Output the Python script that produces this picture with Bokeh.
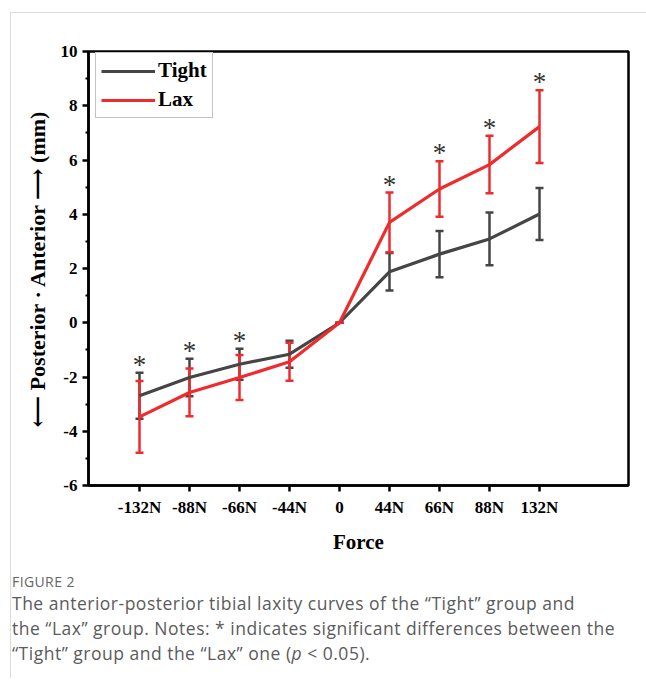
from bokeh.plotting import figure
from bokeh.models import (Range1d, FixedTicker, Whisker, ColumnDataSource, Legend,
                          LegendItem, Div, TeeHead)
from bokeh.layouts import column
from bokeh.core.properties import value
from bokeh.embed import file_html
from bokeh.resources import INLINE

# ---- data ----
forces = ["-132N", "-88N", "-66N", "-44N", "0", "44N", "66N", "88N", "132N"]
tight_mean = [-2.69, -2.02, -1.53, -1.16, 0.0, 1.88, 2.53, 3.09, 4.01]
tight_sd = [0.85, 0.69, 0.57, 0.50, 0.0, 0.69, 0.85, 0.97, 0.96]
lax_mean = [-3.47, -2.57, -2.02, -1.44, 0.0, 3.70, 4.93, 5.83, 7.23]
lax_sd = [1.32, 0.88, 0.83, 0.70, 0.0, 1.10, 1.02, 1.06, 1.34]
significant = [True, True, True, False, False, True, True, True, True]
y_ticks = [-6, -4, -2, 0, 2, 4, 6, 8, 10]
y_minor = [-5, -3, -1, 1, 3, 5, 7, 9]

TIGHT = "#454545"
LAX = "#ef2b2d"
SERIF = "Liberation Serif"

xs = list(range(len(forces)))

def make_src(mean, sd):
    return ColumnDataSource(dict(
        x=xs, y=mean,
        upper=[m + s for m, s in zip(mean, sd)],
        lower=[m - s for m, s in zip(mean, sd)],
    ))

src_t = make_src(tight_mean, tight_sd)
src_l = make_src(lax_mean, lax_sd)

p = figure(width=627, height=547, output_backend="svg", toolbar_location=None,
           x_range=Range1d(-1.02, 9.78), y_range=Range1d(-6, 10),
           min_border_left=77, min_border_top=38, min_border_right=10,
           min_border_bottom=75)
p.grid.visible = False
p.background_fill_color = "white"
p.border_fill_color = "white"
p.outline_line_color = "black"
p.outline_line_width = 2.5

# axes
xa = p.xaxis[0]
xa.ticker = FixedTicker(ticks=xs)
xa.major_label_overrides = {i: f for i, f in enumerate(forces)}
xa.minor_tick_line_color = None
xa.axis_label = "Force"
ya = p.yaxis[0]
ya.ticker = FixedTicker(ticks=y_ticks, minor_ticks=y_minor)
ya.major_label_overrides = {t: str(t) for t in y_ticks}
ya.axis_label = "\u27f5 Posterior \u00b7 Anterior \u27f6 (mm)"
for ax in (xa, ya):
    ax.axis_line_width = 2.5
    ax.axis_line_color = "black"
    ax.major_tick_line_width = 2.5
    ax.major_tick_line_color = "black"
    ax.major_tick_in = 0
    ax.major_tick_out = 6
    ax.minor_tick_line_width = 2
    ax.minor_tick_in = 0
    ax.minor_tick_out = 3
    ax.major_label_text_font = SERIF
    ax.major_label_text_font_style = "bold"
    ax.major_label_text_font_size = "17px"
    ax.major_label_text_color = "black"
    ax.axis_label_text_font = SERIF
    ax.axis_label_text_font_style = "bold"
    ax.axis_label_text_font_size = "21px"
    ax.axis_label_text_color = "black"
ya.axis_label_text_font = "'Liberation Serif', 'DejaVu Serif'"
ya.axis_label_text_font_size = "22px"
xa.major_label_standoff = 6
xa.axis_label_standoff = 10
ya.major_label_standoff = 5
ya.axis_label_standoff = 8

# series
for src, col in ((src_t, TIGHT), (src_l, LAX)):
    w = Whisker(source=src, base="x", upper="upper", lower="lower",
                line_color=col, line_width=2.5,
                upper_head=TeeHead(size=8, line_color=col, line_width=2.5),
                lower_head=TeeHead(size=8, line_color=col, line_width=2.5))
    p.add_layout(w)

r_t = p.line("x", "y", source=src_t, line_color=TIGHT, line_width=3.2)
r_l = p.line("x", "y", source=src_l, line_color=LAX, line_width=3.2)

# significance asterisks above the highest error bar
sx, sy = [], []
for i, sig in enumerate(significant):
    if sig:
        sx.append(xs[i])
        sy.append(max(tight_mean[i] + tight_sd[i], lax_mean[i] + lax_sd[i]))
p.text(x=sx, y=sy, text=["*"] * len(sx), text_font=value(SERIF),
       text_font_size="27px", text_align="center", text_baseline="alphabetic",
       text_color="#333333", y_offset=-8)

legend = Legend(items=[LegendItem(label="Tight", renderers=[r_t]),
                       LegendItem(label="Lax", renderers=[r_l])],
                location=(7, 367), glyph_width=54, glyph_height=22,
                label_height=22, label_standoff=3, spacing=4, padding=5,
                margin=0, border_line_color="#888888", border_line_width=1.2,
                label_text_font=SERIF, label_text_font_style="bold",
                label_text_font_size="21px", label_text_color="black",
                background_fill_alpha=1)
p.add_layout(legend)

caption = Div(text=(
    '<div style="font-family:\'Open Sans\',sans-serif;color:#5b5b5b;margin-left:-4px;">'
    '<div style="font-size:14px;letter-spacing:0.4px;line-height:18px;margin-top:8px;color:#666;">FIGURE 2</div>'
    '<div style="font-size:17.5px;letter-spacing:0.5px;line-height:25px;">'
    'The anterior-posterior tibial laxity curves of the \u201cTight\u201d group and<br>'
    'the \u201cLax\u201d group. Notes: * indicates significant differences between the<br>'
    '\u201cTight\u201d group and the \u201cLax\u201d one (<i>p</i> &lt; 0.05).'
    '</div></div>'), width=627, height=108)

layout = column(p, caption, margin=(12, 0, 0, 10),
                styles={"border-top": "1px solid #dcdcdc",
                        "border-left": "1px solid #dcdcdc"})

open("out.html", "w").write(file_html(layout, INLINE))
